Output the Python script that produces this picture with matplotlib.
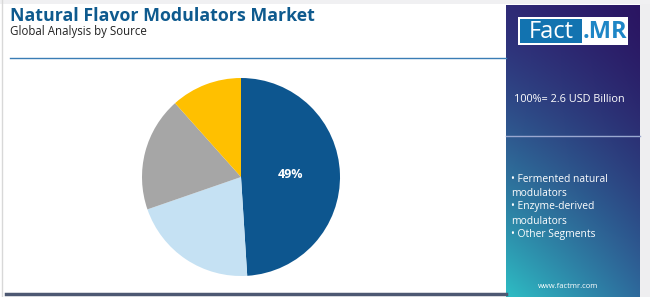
import matplotlib.pyplot as plt
import numpy as np
from matplotlib.colors import to_rgb

# Data
segments = ['Fermented natural modulators', 'Enzyme-derived modulators', 'Other Segments', 'Others']
shares = [49, 20.7, 18.7, 11.6]
colors = ['#0D568F', '#C5E1F3', '#A6A6A6', '#FFC000']
labels = ['49%', '', '', '']

title = 'Natural Flavor Modulators Market'
subtitle = 'Global Analysis by Source'
total_text = '100%= 2.6 USD Billion'
legend_lines = ['• Fermented natural', 'modulators', '• Enzyme-derived', 'modulators', '• Other Segments']

W, H = 650, 297
fig = plt.figure(figsize=(W / 100, H / 100), dpi=100)
fig.patch.set_facecolor('white')

# background axes in pixel coordinates
bg = fig.add_axes([0, 0, 1, 1])
bg.axis('off')

# light frame
bg.add_patch(plt.Rectangle((640, 0), 10, H, color='#EEEEF0', lw=0))
bg.add_patch(plt.Rectangle((0, 0), W, 4, color='#F0F0F2', lw=0))
bg.plot([2, 2], [0, H], color='#D8D8D8', lw=1)

# title block
bg.text(10, 16, title, fontsize=12.8, fontweight='bold', color='#0E5A8E',
        family='Open Sans', va='center', ha='left')
bg.text(10, 32, subtitle, fontsize=8.3, color='#222222',
        family='Open Sans', va='center', ha='left')
bg.plot([10, 506], [58, 58], color='#3A7DB5', lw=1)
bg.plot([6, 506], [293.5, 293.5], color='#4D5872', lw=2.5)

# gradient panel (bilinear between corner colours)
x0, x1, y0, y1 = 506, 640, 5, 297
ny, nx = 200, 100
yy, xx = np.mgrid[0:1:ny * 1j, 0:1:nx * 1j]
v = (yy ** 1.4)[..., None]
u = xx[..., None]
tl = np.array(to_rgb('#2F2B77'))
tr = np.array(to_rgb('#2A1562'))
bl = np.array(to_rgb('#2DBDC4'))
br = np.array(to_rgb('#2E6A9C'))
img = (tl * (1 - u) + tr * u) * (1 - v) + (bl * (1 - u) + br * u) * v
bg.imshow(img, extent=[x0, x1, y1, y0], aspect='auto', zorder=1)
bg.set_xlim(0, W)
bg.set_ylim(H, 0)

# logo
bg.add_patch(plt.Rectangle((518, 17), 110, 28, facecolor='white', lw=0, zorder=2))
bg.add_patch(plt.Rectangle((520, 19), 62, 24, facecolor='#1273B0', lw=0, zorder=3))
bg.text(551, 31.5, 'Fact', fontsize=17, color='white', family='Open Sans',
        ha='center', va='center', zorder=4)
bg.text(605, 31.5, '.MR', fontsize=17, color='#1E86C6', fontweight='bold',
        family='Open Sans', ha='center', va='center', zorder=4)

bg.text(569, 99, total_text, fontsize=7.8, color='white', family='Open Sans',
        ha='center', va='center', zorder=4)
bg.plot([506, 640], [136, 136], color='#9AA8D0', lw=1, zorder=4)
for i, line in enumerate(legend_lines):
    bg.text(511, 179 + i * 14, line, fontsize=7.4, color='white', family='Open Sans',
            ha='left', va='center', zorder=4)
bg.text(568, 287, 'www.factmr.com', fontsize=5.5, color='white', family='Open Sans',
        ha='center', va='center', zorder=4)

# pie
cx, cy, r = 241, 177, 99
ax = fig.add_axes([(cx - r) / W, (H - cy - r) / H, 2 * r / W, 2 * r / H])
wedges, texts = ax.pie(shares, colors=colors, startangle=90, counterclock=False,
                       radius=1, wedgeprops=dict(linewidth=0))
ax.text(0.5, 0.03, labels[0], color='white', fontsize=9, fontweight='bold',
        family='Open Sans', ha='center', va='center')
ax.set_xlim(-1, 1)
ax.set_ylim(-1, 1)
ax.set_aspect('equal')

fig.savefig('out.png', dpi=100)
